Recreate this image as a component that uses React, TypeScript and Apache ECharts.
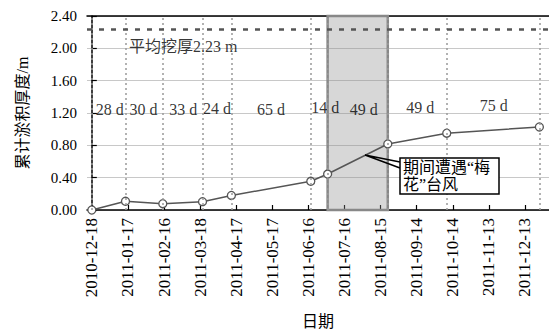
import React, { useEffect, useRef } from "react";
import * as echarts from "echarts";

const START = "2010-12-18";
const sampleDates = [
  "2010-12-18", "2011-01-15", "2011-02-15", "2011-03-20", "2011-04-13",
  "2011-06-18", "2011-07-02", "2011-08-21", "2011-10-09", "2011-12-25",
];
const thickness = [0, 0.108, 0.078, 0.103, 0.18, 0.355, 0.445, 0.817, 0.95, 1.027];
const intervalLabels = ["28 d", "30 d", "33 d", "24 d", "65 d", "14 d", "49 d", "49 d", "75 d"];
const intervalLabelX = [15, 43, 76, 104, 149, 194, 226, 273, 334];
const intervalLabelY = [1.24, 1.24, 1.24, 1.25, 1.24, 1.27, 1.24, 1.27, 1.29];
const tickDays = [0, 30, 60, 90, 120, 150, 180, 210, 240, 270, 300, 330, 360];
const meanDepth = 2.23;
const meanLabel = "平均挖厚2.23 m";
const typhoonStart = "2011-07-02";
const typhoonEnd = "2011-08-21";
const typhoonText = "期间遭遇“梅\n花”台风";

const FONT = "Liberation Serif, Noto Sans CJK SC, serif";
const LATIN = "Liberation Serif";
const DAY = 86400000;
const toDay = (s: string) => {
  const [y, m, d] = s.split("-").map(Number);
  const [y0, m0, d0] = START.split("-").map(Number);
  return Math.round((Date.UTC(y, m - 1, d) - Date.UTC(y0, m0 - 1, d0)) / DAY);
};
const fmtDay = (v: number) => {
  const [y0, m0, d0] = START.split("-").map(Number);
  const t = new Date(Date.UTC(y0, m0 - 1, d0) + Math.round(v) * DAY);
  const p = (n: number) => String(n).padStart(2, "0");
  return `${t.getUTCFullYear()}-${p(t.getUTCMonth() + 1)}-${p(t.getUTCDate())}`;
};

export default function App() {
  const ref = useRef<HTMLDivElement>(null);
  useEffect(() => {
    if (!ref.current) return;
    const chart = echarts.init(ref.current, null, { renderer: "svg" });
    const xs = sampleDates.map(toDay);
    const points = xs.map((x, i) => [x, thickness[i]]);
    const xMin = -4;
    const xMax = 380;
    chart.setOption({
      animation: false,
      backgroundColor: "#fff",
      textStyle: { fontFamily: FONT },
      grid: { left: 87, right: 0, top: 16, bottom: 124 },
      xAxis: [
        {
          type: "value",
          min: xMin,
          max: xMax,
          name: "日期",
          nameLocation: "middle",
          nameGap: 103,
          nameTextStyle: { fontSize: 16, color: "#000", fontFamily: FONT },
          axisLine: { show: true, lineStyle: { color: "#000", width: 1.5 } },
          axisTick: { show: true, inside: true, length: 5, customValues: tickDays, lineStyle: { color: "#000", width: 1.2 } },
          axisLabel: {
            customValues: tickDays,
            rotate: 90,
            margin: 8,
            fontSize: 17,
            color: "#000",
            fontFamily: LATIN,
            formatter: (v: number) => fmtDay(v),
          },
          splitLine: { show: false },
        },
        {
          type: "value",
          position: "top",
          min: xMin,
          max: xMax,
          axisLine: { show: true, lineStyle: { color: "#000", width: 1.5 } },
          axisTick: { show: false },
          axisLabel: { show: false },
          splitLine: { show: false },
        },
      ],
      yAxis: {
        type: "value",
        min: 0,
        max: 2.4,
        interval: 0.4,
        name: "累计淤积厚度/m",
        nameLocation: "middle",
        nameGap: 57,
        nameTextStyle: { fontSize: 16, color: "#000", fontFamily: FONT },
        axisLine: { show: true, lineStyle: { color: "#000", width: 1.5 } },
        axisTick: { show: true, inside: true, length: 5, lineStyle: { color: "#000", width: 1.2 } },
        axisLabel: {
          fontSize: 15,
          color: "#000",
          margin: 10,
          fontFamily: LATIN,
          formatter: (v: number) => v.toFixed(2),
        },
        splitLine: { show: true, lineStyle: { color: "#c8c8c8", width: 1 } },
      },
      series: [
        {
          type: "line",
          z: 1,
          data: points,
          symbol: "none",
          lineStyle: { opacity: 0 },
          silent: true,
          markArea: {
            silent: true,
            itemStyle: { color: "rgba(140,140,140,0.35)", borderColor: "#888", borderWidth: 2.5 },
            data: [[{ xAxis: toDay(typhoonStart), yAxis: 0 }, { xAxis: toDay(typhoonEnd), yAxis: 2.4 }]],
          },
          markLine: {
            silent: true,
            symbol: "none",
            label: { show: false },
            lineStyle: { color: "#999", type: [2, 3], width: 1.5 },
            data: [
              ...xs.map((x) => ({ xAxis: x })),
              { yAxis: meanDepth, lineStyle: { color: "#555", type: [5, 7], width: 2.5 } },
            ],
          },
        },
        {
          type: "line",
          z: 3,
          data: points,
          symbol: "circle",
          symbolSize: 8,
          itemStyle: { color: "#fff", borderColor: "#555", borderWidth: 1.3 },
          lineStyle: { color: "#555", width: 1.5 },
        },
        {
          type: "scatter",
          z: 4,
          symbolSize: 0,
          silent: true,
          data: [
            ...intervalLabels.map((t, i) => ({ name: t, value: [intervalLabelX[i], intervalLabelY[i]] })),
            { name: meanLabel, value: [76, 2.02] },
          ],
          label: {
            show: true,
            position: "inside",
            formatter: (p: any) => p.name,
            fontSize: 16,
            color: "#000",
            fontFamily: FONT,
          },
        },
      ],
      graphic: [
        {
          type: "polyline",
          z: 10,
          shape: { points: [[400, 162], [365, 155], [400, 168]] },
          style: { stroke: "#000", lineWidth: 1.5, fill: "none" },
        },
        {
          type: "rect",
          z: 10,
          shape: { x: 400, y: 158, width: 99, height: 36 },
          style: { fill: "#fff", stroke: "#000", lineWidth: 1.5 },
        },
        {
          type: "text",
          z: 11,
          x: 403,
          y: 159,
          style: { text: typhoonText, fontSize: 16, lineHeight: 17, fill: "#000", fontFamily: FONT },
        },
      ],
    });
    return () => chart.dispose();
  }, []);
  return <div ref={ref} style={{ position: "fixed", left: 0, top: 0, width: 549, height: 334 }} />;
}
